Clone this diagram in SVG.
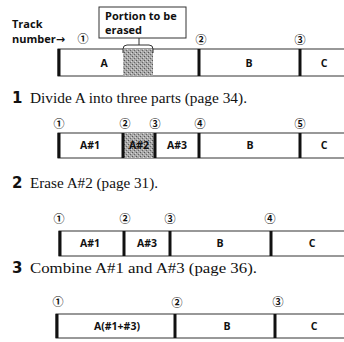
<svg xmlns="http://www.w3.org/2000/svg" width="344" height="342" viewBox="0 0 344 342">
<defs>
<pattern id="stip" width="4" height="4" patternUnits="userSpaceOnUse">
<rect width="4" height="4" fill="#a8a8a8"/>
<rect x="0" y="0" width="1" height="1" fill="#555"/>
<rect x="2" y="2" width="1" height="1" fill="#666"/>
<rect x="3" y="1" width="1" height="1" fill="#d8d8d8"/>
<rect x="1" y="3" width="1" height="1" fill="#d0d0d0"/>
</pattern>
</defs>
<style>
.bar{fill:#fff;stroke:#333;stroke-width:1}
.div{stroke:#111;stroke-width:3}
.lbl{font-family:"Open Sans","DejaVu Sans",sans-serif;font-weight:bold;font-size:10.5px;fill:#111;text-anchor:middle}
.num{font-family:"Noto Sans CJK JP","DejaVu Sans",sans-serif;font-weight:bold;font-size:11px;fill:#111;text-anchor:middle}
.step{font-family:"DejaVu Sans",sans-serif;font-weight:bold;font-size:15px;fill:#111}
.desc{font-family:"Liberation Serif",serif;font-size:14px;fill:#111}
.note{font-family:"Open Sans","DejaVu Sans",sans-serif;font-weight:bold;font-size:11px;fill:#111}
</style>

<g id="row0">
<text class="note" x="12" y="28">Track</text>
<text class="note" x="12" y="43">number→</text>
<g id="callout">
<rect x="99" y="7" width="87" height="31" fill="#fff" stroke="#333" stroke-width="1"/>
<text class="note" x="105" y="20">Portion to be</text>
<text class="note" x="105" y="34">erased</text>
<line x1="139" y1="38" x2="139" y2="45" stroke="#333" stroke-width="1"/>
</g>
<rect class="bar" x="58" y="49" width="290" height="27"/>
<rect x="123" y="49" width="30" height="27" fill="url(#stip)"/>
<path d="M123,53 V49 Q123,45 127,45 H149 Q153,45 153,49 V53" fill="none" stroke="#333" stroke-width="1"/>
<line class="div" x1="59" y1="49" x2="59" y2="76"/>
<line class="div" x1="199" y1="49" x2="199" y2="76"/>
<line class="div" x1="300" y1="49" x2="300" y2="76"/>
<text class="num" x="83" y="43">①</text>
<text class="num" x="201" y="44">②</text>
<text class="num" x="300" y="44">③</text>
<text class="lbl" x="104" y="67">A</text>
<text class="lbl" x="249" y="67">B</text>
<text class="lbl" x="324" y="67">C</text>
</g>

<g id="row1">
<text class="step" x="12" y="103">1</text>
<text class="desc" x="30" y="103" textLength="217" lengthAdjust="spacingAndGlyphs">Divide A into three parts (page 34).</text>
<rect class="bar" x="58" y="133" width="290" height="25"/>
<rect x="123" y="133" width="32" height="25" fill="url(#stip)"/>
<line class="div" x1="59" y1="133" x2="59" y2="158"/>
<line class="div" x1="123" y1="133" x2="123" y2="158"/>
<line class="div" x1="155" y1="133" x2="155" y2="158"/>
<line class="div" x1="199" y1="133" x2="199" y2="158"/>
<line class="div" x1="300" y1="133" x2="300" y2="158"/>
<text class="num" x="59" y="128">①</text>
<text class="num" x="125" y="128">②</text>
<text class="num" x="155" y="128">③</text>
<text class="num" x="200" y="128">④</text>
<text class="num" x="300" y="128">⑤</text>
<text class="lbl" x="90" y="149">A#1</text>
<text class="lbl" x="139" y="149">A#2</text>
<text class="lbl" x="177" y="149">A#3</text>
<text class="lbl" x="250" y="149">B</text>
<text class="lbl" x="324" y="149">C</text>
</g>

<g id="row2">
<text class="step" x="12" y="188">2</text>
<text class="desc" x="30" y="188" textLength="128" lengthAdjust="spacingAndGlyphs">Erase A#2 (page 31).</text>
<rect class="bar" x="59" y="231" width="290" height="25"/>
<line class="div" x1="60" y1="231" x2="60" y2="256"/>
<line class="div" x1="124" y1="231" x2="124" y2="256"/>
<line class="div" x1="170" y1="231" x2="170" y2="256"/>
<line class="div" x1="271" y1="231" x2="271" y2="256"/>
<text class="num" x="59" y="223">①</text>
<text class="num" x="125" y="223">②</text>
<text class="num" x="170" y="223">③</text>
<text class="num" x="270" y="223">④</text>
<text class="lbl" x="90" y="247">A#1</text>
<text class="lbl" x="147" y="247">A#3</text>
<text class="lbl" x="220" y="247">B</text>
<text class="lbl" x="312" y="247">C</text>
</g>

<g id="row3">
<text class="step" x="12" y="273">3</text>
<text class="desc" x="30" y="273" textLength="227" lengthAdjust="spacingAndGlyphs">Combine A#1 and A#3 (page 36).</text>
<rect class="bar" x="56" y="314" width="290" height="24"/>
<line class="div" x1="57" y1="314" x2="57" y2="338"/>
<line class="div" x1="175" y1="314" x2="175" y2="338"/>
<line class="div" x1="275" y1="314" x2="275" y2="338"/>
<text class="num" x="58" y="306">①</text>
<text class="num" x="177" y="307">②</text>
<text class="num" x="278" y="306">③</text>
<text class="lbl" x="117" y="330">A(#1+#3)</text>
<text class="lbl" x="227" y="330">B</text>
<text class="lbl" x="314" y="330">C</text>
</g>
<g id="connectors"/>
</svg>
